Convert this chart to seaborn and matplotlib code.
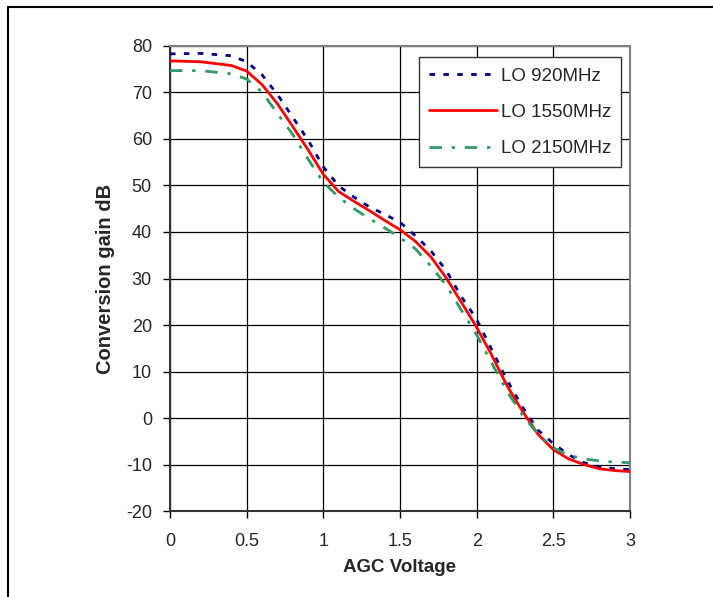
import matplotlib
matplotlib.use("Agg")
import matplotlib.pyplot as plt
import seaborn as sns
import pandas as pd

# AGC voltage sweep (V)
agc_v = [0.0, 0.2, 0.4, 0.5, 0.6, 0.7, 0.8, 0.9, 1.0, 1.1, 1.2, 1.3, 1.4, 1.5,
         1.6, 1.7, 1.8, 1.9, 2.0, 2.1, 2.2, 2.3, 2.4, 2.5, 2.6, 2.7, 2.8, 2.9, 3.0]

# conversion gain (dB) per LO frequency
gain_920 = [78.3, 78.4, 77.9, 76.6, 73.8, 69.6, 64.7, 59.8, 54.0, 49.9, 47.5, 45.4, 43.8, 42.1,
            39.2, 36.0, 31.8, 26.1, 21.2, 14.6, 8.0, 2.3, -2.6, -5.5, -7.9, -9.6, -10.5, -10.9, -11.1]
gain_1550 = [76.8, 76.6, 75.8, 74.6, 71.7, 67.6, 62.7, 57.7, 52.4, 48.7, 46.6, 44.6, 42.5, 40.5,
             38.0, 34.7, 30.2, 24.9, 19.5, 13.4, 6.8, 1.4, -3.5, -6.8, -8.8, -10.0, -10.9, -11.3, -11.5]
gain_2150 = [74.7, 74.7, 74.0, 72.9, 70.1, 65.5, 61.0, 55.7, 50.7, 47.5, 45.0, 42.9, 40.9, 38.8,
             36.4, 32.7, 28.6, 23.2, 17.9, 11.7, 5.6, 0.6, -3.5, -6.4, -8.0, -8.8, -9.2, -9.5, -9.6]

series_names = ["LO 920MHz", "LO 1550MHz", "LO 2150MHz"]
xticks = [0, 0.5, 1, 1.5, 2, 2.5, 3]
xtick_labels = ["0", "0.5", "1", "1.5", "2", "2.5", "3"]
yticks = [-20, -10, 0, 10, 20, 30, 40, 50, 60, 70, 80]

df = pd.DataFrame({
    "AGC Voltage": agc_v * 3,
    "gain": gain_920 + gain_1550 + gain_2150,
    "series": [series_names[0]] * len(agc_v) + [series_names[1]] * len(agc_v) + [series_names[2]] * len(agc_v),
})

sns.set_style("white")
plt.rcParams['font.family'] = ['Liberation Sans', 'DejaVu Sans']
plt.rcParams['axes.unicode_minus'] = False

fig = plt.figure(figsize=(7.13, 5.97), dpi=100)
ax = fig.add_axes([0.2384, 0.144, 0.6452, 0.779])

palette = {series_names[0]: "#000080", series_names[1]: "#ff0000", series_names[2]: "#339966"}
dashes = {series_names[0]: (2, 3), series_names[1]: "", series_names[2]: (4.5, 3.5, 1.2, 3.5)}

sns.lineplot(data=df, x="AGC Voltage", y="gain", hue="series", style="series",
             palette=palette, dashes=dashes, linewidth=2, ax=ax, zorder=3)

ax.set_xlim(0, 3)
ax.set_ylim(-20, 80)
ax.set_xticks(xticks)
ax.set_xticklabels(xtick_labels)
ax.set_yticks(yticks)
ax.tick_params(axis="both", labelsize=13, length=5, width=1, direction="out", color="black",
               left=True, bottom=True)
ax.tick_params(axis="x", pad=11)
ax.tick_params(axis="y", pad=8)
ax.grid(True, color="black", linewidth=0.9)
for side in ["left", "bottom"]:
    ax.spines[side].set_color("#333333")
    ax.spines[side].set_linewidth(1.5)
for side in ["top", "right"]:
    ax.spines[side].set_color("#808080")
    ax.spines[side].set_linewidth(1.5)

ax.set_xlabel("AGC Voltage", fontsize=13.5, fontweight="bold", labelpad=6)
ax.set_ylabel("Conversion gain dB", fontsize=14.5, fontweight="bold", labelpad=8)

leg = ax.legend(loc="upper right", bbox_to_anchor=(0.981, 0.976), fontsize=13.5,
                handlelength=3.6, handletextpad=0.2, labelspacing=1.02, borderpad=0.55,
                borderaxespad=0, fancybox=False, framealpha=1, edgecolor="#333333")
leg.get_frame().set_linewidth(1)
leg.set_title(None)

# outer frame around the figure
fig.patches.append(plt.Rectangle((8 / 713, -0.01), 1.0, 1 - 7 / 597 + 0.01, transform=fig.transFigure,
                                 fill=False, edgecolor="black", linewidth=1.5))

fig.savefig("out.png", dpi=100)
